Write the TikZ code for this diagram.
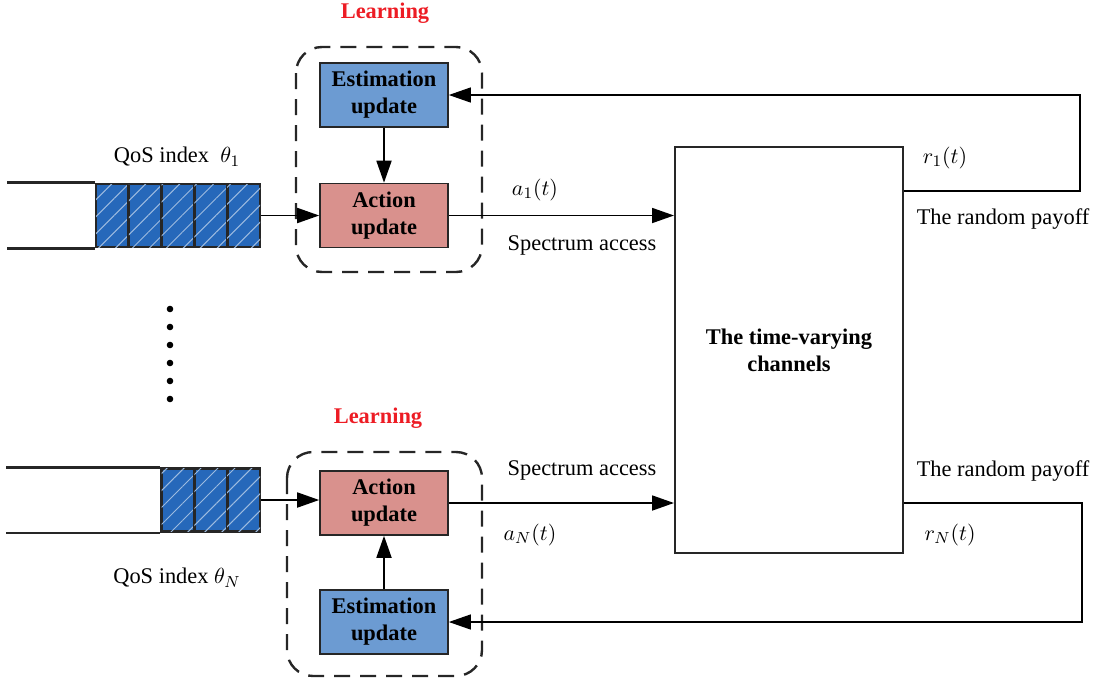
\documentclass[tikz,border=0pt]{standalone}
\usepackage{fontspec}
\setmainfont{Liberation Serif}
\usetikzlibrary{arrows.meta,patterns.meta}

\definecolor{qblue}{RGB}{38,104,186}
\definecolor{estblue}{RGB}{108,155,210}
\definecolor{actred}{RGB}{217,145,141}
\definecolor{learnred}{RGB}{237,28,36}

\tikzset{
  cell/.style={draw=black!85, line width=1.4pt, fill=qblue,
    minimum width=16.4pt, minimum height=31.5pt, inner sep=0pt,
    postaction={pattern={Lines[angle=45,distance=6pt,line width=0.5pt]},
      pattern color=white!55!qblue}},
  updbox/.style={draw=black!85, line width=0.8pt, minimum width=64pt,
    minimum height=32pt, align=center, inner sep=0pt,
    font=\fontsize{11.2}{13.5}\selectfont\bfseries},
  learnbox/.style={draw=black!85, line width=1.2pt, dash pattern=on 8pt off 5pt,
    rounded corners=13pt},
  conn/.style={line width=0.9pt, -{Triangle[length=11pt,width=7.5pt]}},
  lbl/.style={font=\fontsize{11.2}{13.5}\selectfont}
}

\begin{document}
\begin{tikzpicture}[x=0.5pt,y=-0.5pt]
  \useasboundingbox (0,0) rectangle (1097,686);

  % queues
  \foreach \i in {1,...,5}
    \node[cell] (q1c\i) at ({260-16.4-32.8*(5-\i)},215.5) {};
  \foreach \i in {1,...,3}
    \node[cell] (q2c\i) at ({260-16.4-32.8*(3-\i)},500) {};
  \draw[line width=1.4pt, black!85] (q1c1.north west) -- ++(-88,0);
  \draw[line width=1.4pt, black!85] (q1c1.south west) -- ++(-88,0);
  \draw[line width=1.4pt, black!85] (q2c1.north west) -- ++(-154,0);
  \draw[line width=1.4pt, black!85] (q2c1.south west) -- ++(-154,0);

  % dots
  \foreach \y in {309,327,345,363,381,399}
    \fill (170,\y) circle (3.3);

  % learning blocks
  \draw[learnbox] (296,47) rectangle (482,272);
  \draw[learnbox] (287,452) rectangle (482,676);

  \begin{scope}[every node/.style={updbox}]
    \node[fill=estblue] (est1) at (384,95)  {Estimation\\update};
    \node[fill=actred]  (act1) at (384,215.5) {Action\\update};
    \node[fill=actred]  (act2) at (384,503) {Action\\update};
    \node[fill=estblue] (est2) at (384,622) {Estimation\\update};
    \node[draw, fill=none, minimum width=114pt, minimum height=203pt,
      line width=1pt] (chan) at (789,350) {The time-varying\\channels};
  \end{scope}

  \coordinate (fb1) at (1080,191);
  \coordinate (fb2) at (1082,503);

  % connectors
  \draw[conn] (q1c5.east) -- (q1c5.east -| act1.west);
  \draw[conn] (q2c3.east) -- (q2c3.east -| act2.west);
  \draw[conn] (est1) -- (act1);
  \draw[conn] (est2) -- (act2);
  \draw[conn] (act1.east) -- (act1.east -| chan.west);
  \draw[conn] (act2.east) -- (act2.east -| chan.west);
  \draw[conn, line width=0.6pt] (fb1 -| chan.east) -- (fb1) |- (est1.east);
  \draw[conn, line width=0.6pt] (fb2 -| chan.east) -- (fb2) |- (est2.east);

  % labels
  \begin{scope}[every node/.style={lbl}]
    \node[text=learnred, font=\fontsize{11.2}{13.5}\selectfont\bfseries] (learn1) at (385,13) {Learning};
    \node[text=learnred, font=\fontsize{11.2}{13.5}\selectfont\bfseries] (learn2) at (378,418) {Learning};
    \node (qos1) at (177,157) {QoS index \ $\theta_1$};
    \node (qos2) at (177,578) {QoS index $\theta_N$};
    \node (a1) at (535,190) {$a_1(t)$};
    \node (aN) at (530,535) {$a_N(t)$};
    \node (sa1) at (582,245) {Spectrum access};
    \node (sa2) at (582,470) {Spectrum access};
    \node (r1) at (945,158) {$r_1(t)$};
    \node (rN) at (950,535) {$r_N(t)$};
    \node (pay1) at (1003,219) {The random payoff};
    \node (pay2) at (1003,471) {The random payoff};
  \end{scope}
\end{tikzpicture}
\end{document}
